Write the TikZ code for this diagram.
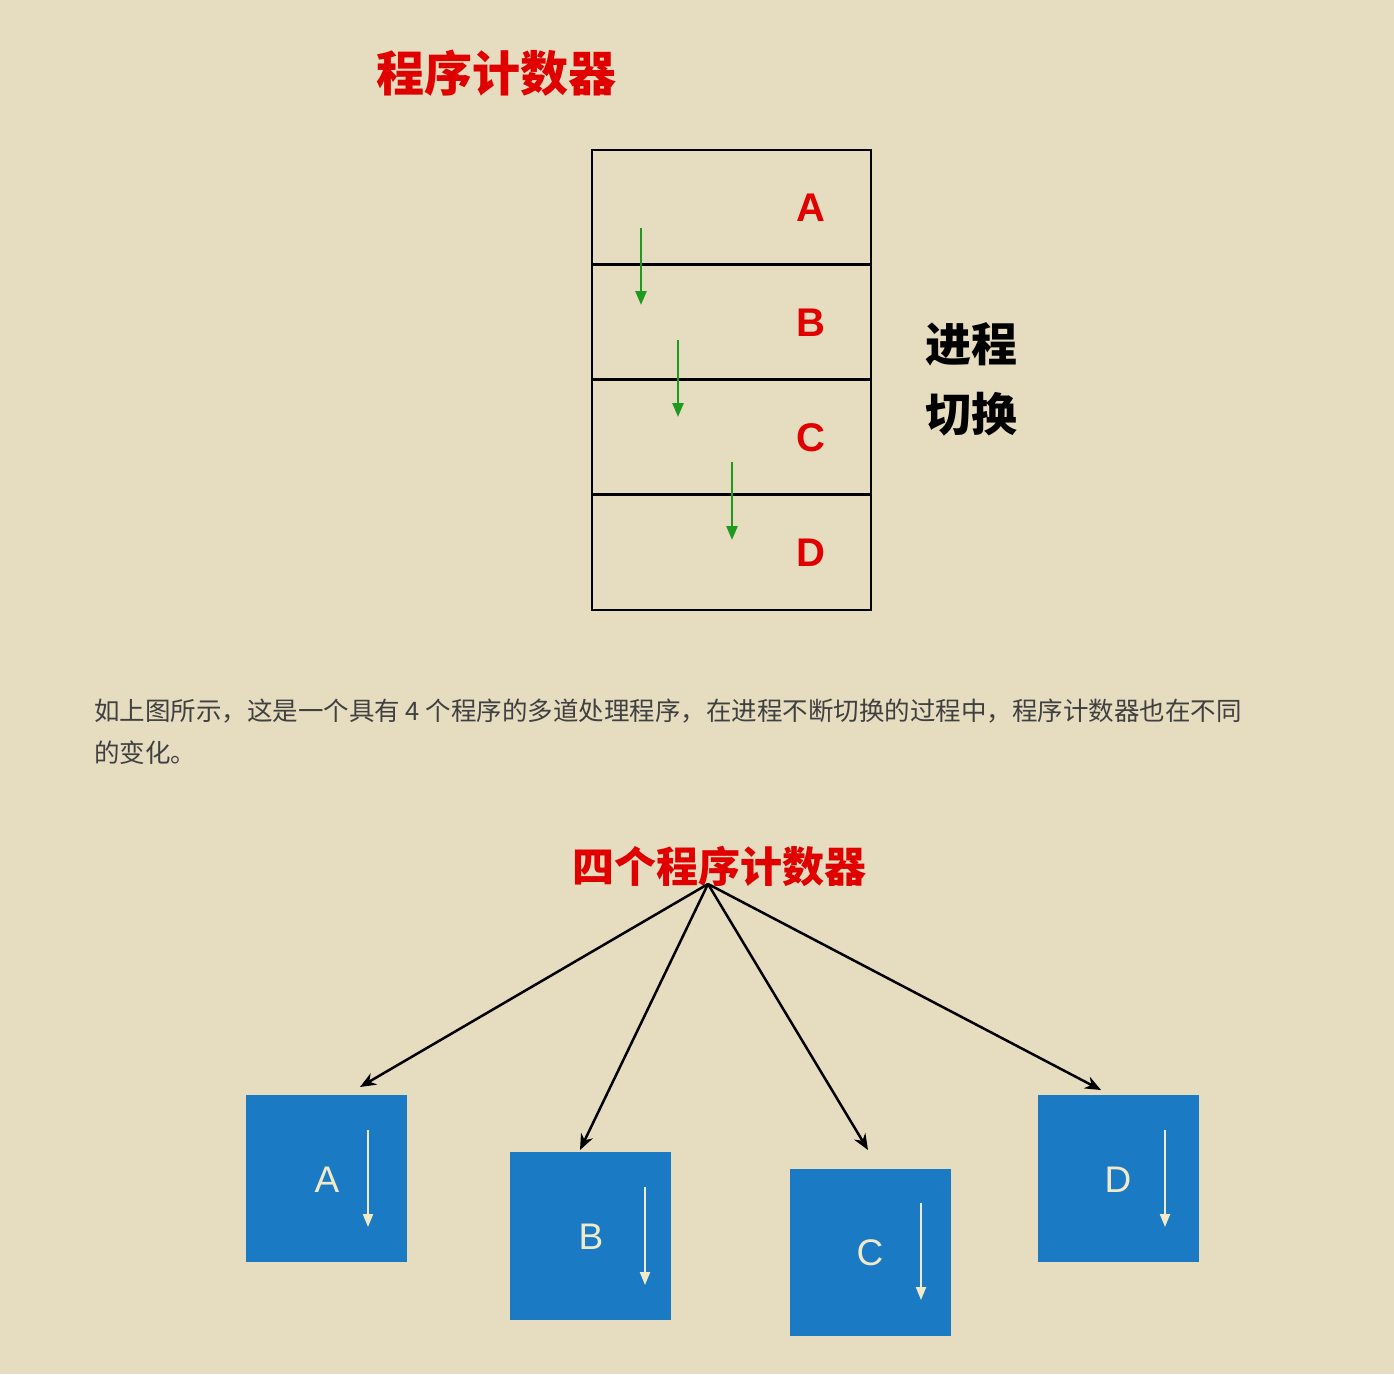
\documentclass[tikz,border=0pt]{standalone}
\usepackage{fontspec}
\setmainfont{Liberation Sans}
\newfontfamily\cjk{Noto Sans CJK SC}
\usetikzlibrary{arrows.meta}
\definecolor{bg}{HTML}{E6DCC0}
\definecolor{myred}{HTML}{E00000}
\definecolor{mygreen}{HTML}{1E9A1E}
\definecolor{myblue}{HTML}{1A7BC4}
\definecolor{cream}{HTML}{F2E9C8}
\begin{document}
\begin{tikzpicture}[x=1pt,y=-1pt,
  letr/.style={text=myred,font=\fontsize{40}{40}\selectfont\bfseries},
  garrow/.style={draw=mygreen,line width=2.5pt,-{Triangle[length=14pt,width=11pt]}},
  bbox/.style={fill=myblue,draw=none,minimum width=161pt,minimum height=167pt,anchor=north west,inner sep=0},
  blet/.style={text=cream,font=\fontsize{37}{37}\selectfont},
  warrow/.style={draw=cream,line width=2pt,-{Triangle[length=13pt,width=10pt]}},
  karrow/.style={draw=black,line width=2.5pt,-{Stealth[length=16pt,width=13pt]}}]
\fill[bg] (0,0) rectangle (1394,1374);
\useasboundingbox (0,0) rectangle (1394,1374);
\node[text=myred,font=\cjk\bfseries\fontsize{48}{48}\selectfont] (t1) at (496,73) {程序计数器};
\draw[line width=1.5pt] (592,150) rectangle (871,610);
\foreach \y in {264,379,494} \draw[line width=3pt] (592,\y) -- (871,\y);
\node[letr] (la) at (811,208) {A};
\node[letr] (lb) at (811,323) {B};
\node[letr] (lc) at (811,438) {C};
\node[letr] (ld) at (811,553) {D};
\coordinate (g1s) at (641,228); \coordinate (g1e) at (641,305);
\coordinate (g2s) at (678,340); \coordinate (g2e) at (678,417);
\coordinate (g3s) at (732,462); \coordinate (g3e) at (732,540);
\draw[garrow] (g1s) -- (g1e);
\draw[garrow] (g2s) -- (g2e);
\draw[garrow] (g3s) -- (g3e);
\node[font=\cjk\bfseries\fontsize{46}{46}\selectfont] (sw1) at (971,344) {进程};
\node[font=\cjk\bfseries\fontsize{46}{46}\selectfont] (sw2) at (971,414) {切换};
\node[anchor=west,inner sep=0,text=black!75,font=\cjk\fontsize{25.5}{25.5}\selectfont] (p1) at (94,711) {如上图所示，这是一个具有 4 个程序的多道处理程序，在进程不断切换的过程中，程序计数器也在不同};
\node[anchor=west,inner sep=0,text=black!75,font=\cjk\fontsize{25.5}{25.5}\selectfont] (p2) at (94,753) {的变化。};
\node[text=myred,font=\cjk\bfseries\fontsize{42}{42}\selectfont,inner sep=0] (t2) at (719,866) {四个程序计数器};
\coordinate (o) at (708,884);
\node[bbox] (ba) at (246,1095) {};
\node[bbox,minimum height=168pt] (bb) at (510,1152) {};
\node[bbox,minimum height=167pt] (bc) at (790,1169) {};
\node[bbox] (bd) at (1038,1095) {};
\coordinate (ea) at (360,1087);
\coordinate (eb) at (580,1150);
\coordinate (ec) at (868,1150);
\coordinate (ed) at (1101,1090);
\draw[karrow] (o) -- (ea);
\draw[karrow] (o) -- (eb);
\draw[karrow] (o) -- (ec);
\draw[karrow] (o) -- (ed);
\node[blet] (xa) at (327,1180) {A};
\node[blet] (xb) at (591,1237) {B};
\node[blet] (xc) at (870,1253) {C};
\node[blet] (xd) at (1118,1180) {D};
\coordinate (wa1) at (368,1130); \coordinate (wa2) at (368,1227);
\coordinate (wb1) at (645,1187); \coordinate (wb2) at (645,1285);
\coordinate (wc1) at (921,1203); \coordinate (wc2) at (921,1300);
\coordinate (wd1) at (1165,1130); \coordinate (wd2) at (1165,1227);
\draw[warrow] (wa1) -- (wa2);
\draw[warrow] (wb1) -- (wb2);
\draw[warrow] (wc1) -- (wc2);
\draw[warrow] (wd1) -- (wd2);
\end{tikzpicture}
\end{document}
